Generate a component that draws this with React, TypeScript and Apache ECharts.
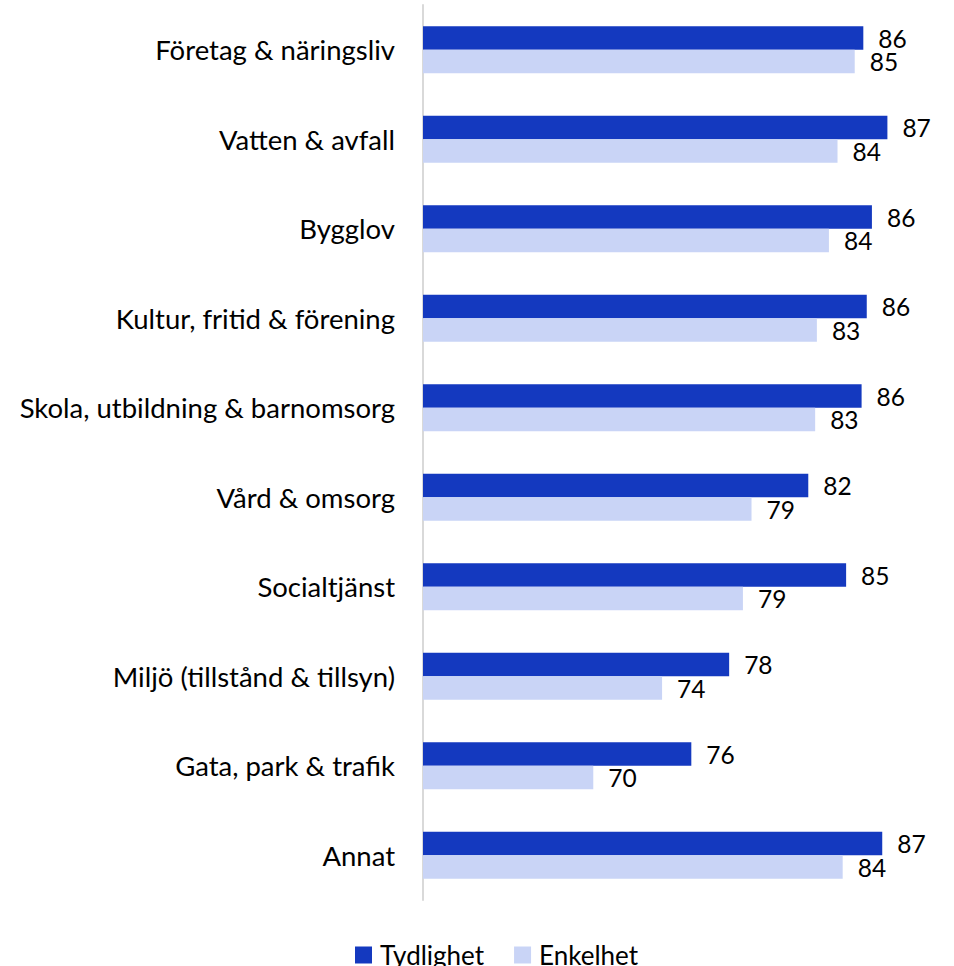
import React, { useEffect, useRef } from "react";
import * as echarts from "echarts";

const categories = [
  "Företag & näringsliv",
  "Vatten & avfall",
  "Bygglov",
  "Kultur, fritid & förening",
  "Skola, utbildning & barnomsorg",
  "Vård & omsorg",
  "Socialtjänst",
  "Miljö (tillstånd & tillsyn)",
  "Gata, park & trafik",
  "Annat",
];
const tydlighet = [85.6, 87.0, 86.1, 85.8, 85.5, 82.4, 84.6, 77.8, 75.6, 86.7];
const enkelhet = [85.1, 84.1, 83.6, 82.9, 82.8, 79.1, 78.6, 73.9, 69.9, 84.4];
const seriesNames = ["Tydlighet", "Enkelhet"];
const colors = ["#1439BF", "#C9D4F6"];

const FONT = "Lato";

export default function App() {
  const ref = useRef<HTMLDivElement>(null);
  useEffect(() => {
    document.body.style.margin = "0";
    const chart = echarts.init(ref.current!, null, { renderer: "svg" });
    const label = {
      show: true,
      position: "right" as const,
      distance: 15,
      color: "#000",
      fontFamily: FONT,
      fontSize: 24.5,
      lineHeight: 20,
      formatter: (p: any) => String(Math.round(p.value)),
    };
    chart.setOption({
      animation: false,
      grid: { left: 423, right: 15, top: 5, bottom: 66, containLabel: false },
      xAxis: {
        type: "value",
        min: 60,
        max: 90,
        show: false,
      },
      yAxis: {
        type: "category",
        data: categories,
        inverse: true,
        axisLine: { show: true, lineStyle: { color: "#D9D9D9", width: 2 } },
        axisTick: { show: false },
        axisLabel: {
          margin: 28,
          color: "#000",
          fontFamily: FONT,
          fontSize: 27.5,
        },
      },
      legend: {
        data: seriesNames,
        left: 355,
        top: 942,
        padding: 0,
        itemWidth: 17,
        itemHeight: 17,
        itemGap: 30,
        icon: "rect",
        textStyle: {
          color: "#000",
          fontFamily: FONT,
          fontSize: 26,
          lineHeight: 20,
          padding: [0, 0, 0, 3],
        },
      },
      series: [
        {
          name: seriesNames[0],
          type: "bar",
          data: tydlighet,
          barWidth: 23.5,
          barGap: "0%",
          itemStyle: { color: colors[0] },
          label,
        },
        {
          name: seriesNames[1],
          type: "bar",
          data: enkelhet,
          barWidth: 23.5,
          barGap: "0%",
          itemStyle: { color: colors[1] },
          label,
        },
      ],
    });
    return () => chart.dispose();
  }, []);
  return <div ref={ref} style={{ width: 954, height: 966 }} />;
}
